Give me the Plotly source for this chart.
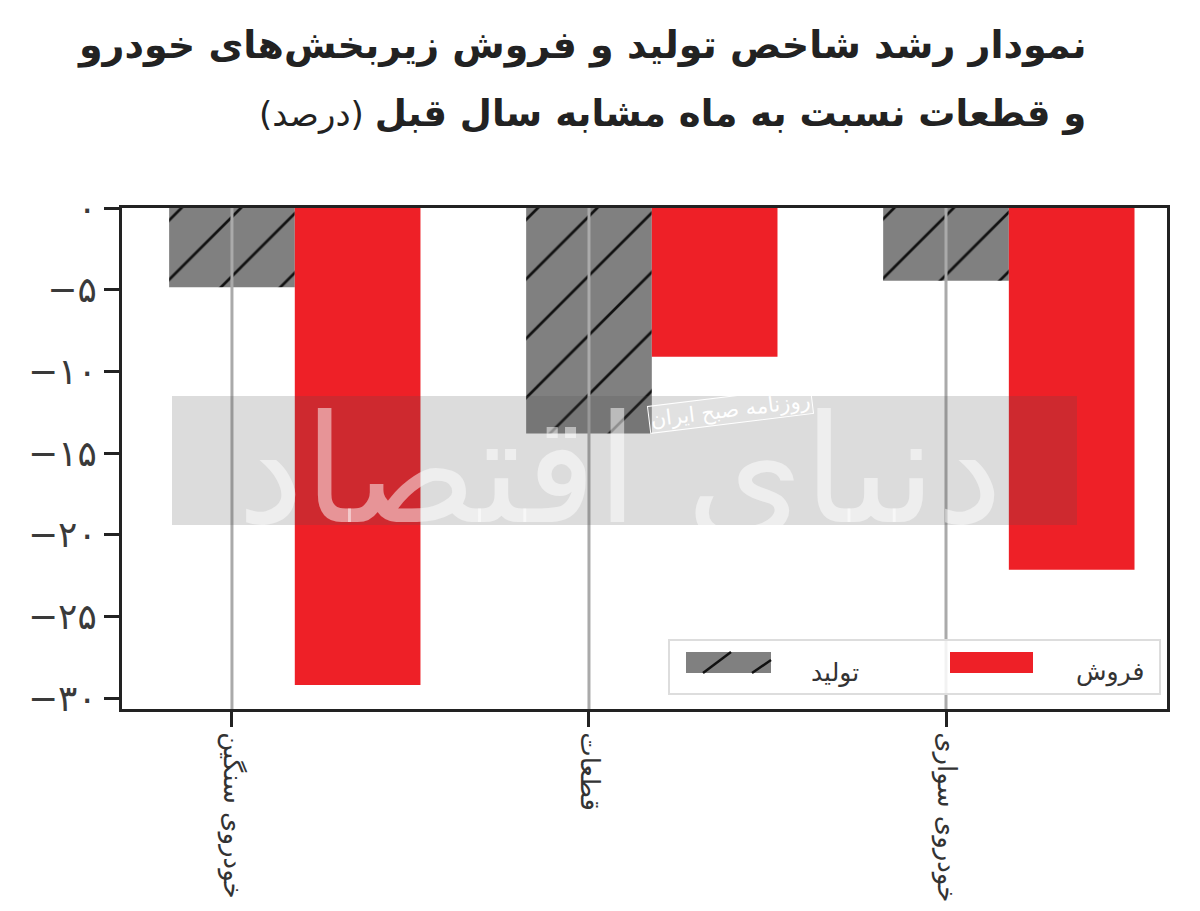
import plotly.graph_objects as go

categories = ['خودروی سنگین', 'قطعات', 'خودروی سواری']
production = [-4.85, -13.8, -4.45]
sales = [-29.2, -9.1, -22.15]
tick_vals = [0, -5, -10, -15, -20, -25, -30]
tick_text = ['۰', '−۵', '−۱۰', '−۱۵', '−۲۰', '−۲۵', '−۳۰']

PLOT_L, PLOT_R, PLOT_T, PLOT_B = 122, 1167, 208, 709
BODY = 8  # default body margin of the page
GRAY = '#808080'
RED = '#ee2027'
FONT = 'DejaVu Sans'


# layout helpers, page pixels to paper coords
def px(x):
    return (x - PLOT_L) / (PLOT_R - PLOT_L)


def py(y):
    return (PLOT_B - y) / (PLOT_B - PLOT_T)


def rect(x0, y0, x1, y1, **kw):
    return dict(type='rect', xref='paper', yref='paper', x0=px(x0), x1=px(x1), y0=py(y0), y1=py(y1), **kw)


def seg(x0, y0, x1, y1):
    return dict(type='line', xref='paper', yref='paper', x0=px(x0), x1=px(x1), y0=py(y0), y1=py(y1),
                line=dict(color='#111', width=2.5))


def label(x, y, text, size, color='#222', anchor='center', **kw):
    return dict(xref='paper', yref='paper', x=px(x), y=py(y), text=text, showarrow=False, xanchor=anchor,
                yanchor='middle', font=dict(family=FONT, size=size, color=color), **kw)


fig = go.Figure()
fig.add_trace(go.Bar(x=categories, y=production, name='تولید', width=0.352, offset=-0.176,
                     marker=dict(color=GRAY, line_width=0,
                                 pattern=dict(shape='/', fgcolor='#111', fgopacity=1, bgcolor=GRAY,
                                              size=42, solidity=0.065))))
fig.add_trace(go.Bar(x=categories, y=sales, name='فروش', width=0.352, offset=0.176,
                     marker=dict(color=RED, line_width=0)))

shapes = []
# grid has to sit on top of the bars
for c in categories:
    shapes.append(dict(type='line', xref='x', yref='paper', x0=c, x1=c, y0=0, y1=1,
                       line=dict(color='#aaaaaa', width=3)))
# watermark band
shapes.append(rect(172, 396, 1077, 525, fillcolor='rgba(80,80,80,0.2)', line_width=0))
# legend
shapes.append(rect(669, 640, 1160, 694, fillcolor='rgba(255,255,255,0.85)', line=dict(color='#dddddd', width=2)))
shapes.append(rect(686, 652, 771, 673, fillcolor=GRAY, line_width=0))
shapes.append(seg(703, 673, 731, 652))
shapes.append(seg(752, 673, 771, 660))
shapes.append(rect(950, 652, 1033, 673, fillcolor=RED, line_width=0))

annotations = [
    label(1088, 45, '<b>نمودار رشد شاخص تولید و فروش زیربخش‌های خودرو</b>', 38, anchor='right'),
    label(1088, 113, '<b>و قطعات نسبت به ماه مشابه سال قبل</b>'
                     '<span style="font-size:34px"> (درصد)\u200f</span>', 37, anchor='right'),
    label(835, 672, 'تولید', 25, color='#333'),
    label(1110, 672, 'فروش', 25, color='#333'),
    label(620, 470, 'دنیای اقتصاد', 150, color='rgba(255,255,255,0.5)'),
    label(730, 410, 'روزنامه صبح ایران', 21, color='white', textangle=-7, bordercolor='white', borderwidth=1,
          bgcolor='rgba(255,255,255,0.15)'),
]

fig.update_layout(
    width=1200 - BODY, height=911 - BODY,
    margin=dict(l=PLOT_L - BODY, r=1200 - PLOT_R, t=PLOT_T - BODY, b=911 - PLOT_B, autoexpand=False),
    paper_bgcolor='white', plot_bgcolor='white',
    barmode='overlay', showlegend=False,
    shapes=shapes, annotations=annotations,
    font=dict(family=FONT, color='#333'),
    xaxis=dict(type='category', range=[-0.308, 2.619], tickangle=90, ticks='outside', ticklen=15, tickwidth=3,
               tickcolor='#222', showline=True, linecolor='#222', linewidth=3, mirror=True, showgrid=False,
               tickfont=dict(size=26)),
    yaxis=dict(range=[-30.67, 0], tickvals=tick_vals, ticktext=tick_text, ticks='outside', ticklen=15, tickwidth=3,
               tickcolor='#222', showline=True, linecolor='#222', linewidth=3, mirror=True, showgrid=False,
               zeroline=False, tickfont=dict(size=36, color='#3a3a3a')),
)

fig.write_html("out.html")
